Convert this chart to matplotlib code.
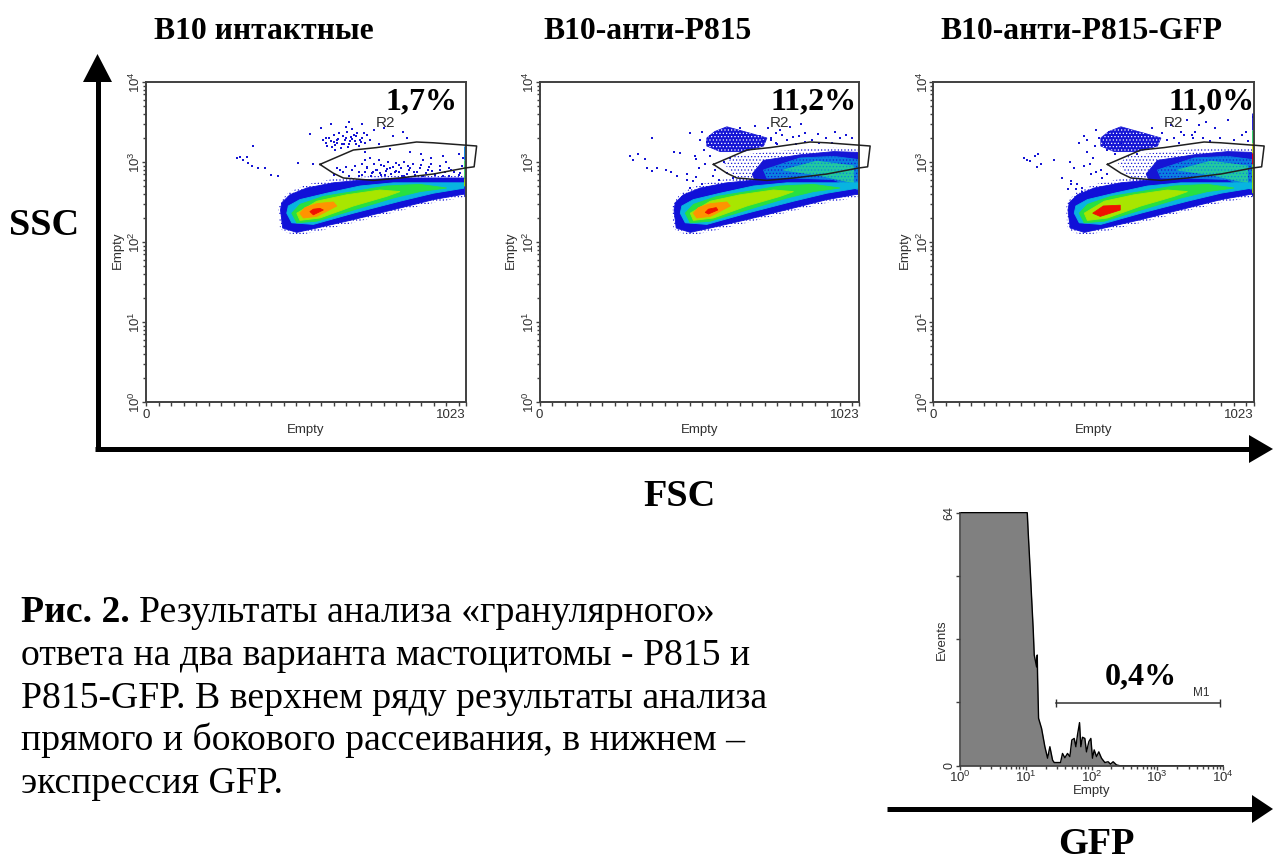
"""
Flow cytometry figure: FSC/SSC dot plots for three groups and a GFP histogram
"""

import numpy as np
import matplotlib
matplotlib.use('Agg')
import matplotlib.pyplot as plt
from matplotlib.patches import Polygon
from matplotlib.transforms import ScaledTranslation

W, H = 1273, 856
SERIF = 'Liberation Serif'
SANS = 'Liberation Sans'
AXC = '#404040'
DOT = '#1515d5'
plt.rcParams['hatch.linewidth'] = 0.5

titles = ['B10 интактные', 'B10-анти-P815', 'B10-анти-P815-GFP']
title_x = [264, 648, 1081]
percents = ['1,7%', '11,2%', '11,0%']
percent_x = [422, 814, 1212]
panel_left = [146, 539.5, 933.5]

# density layers of the main population: channel, log10(SSC)
ring_x = [424, 428, 440, 482, 546, 663, 812, 919, 1020, 1020, 919, 812, 705, 599, 514, 455, 428]
ring_y = [2.42, 2.18, 2.13, 2.08, 2.13, 2.24, 2.39, 2.49, 2.56, 2.84, 2.84, 2.84, 2.82, 2.79, 2.72, 2.62, 2.50]
blue_x = [430, 437, 482, 546, 663, 812, 919, 1020, 1020, 919, 812, 705, 599, 514, 460, 434]
blue_y = [2.40, 2.175, 2.12, 2.175, 2.28, 2.425, 2.53, 2.60, 2.80, 2.80, 2.80, 2.78, 2.74, 2.675, 2.59, 2.49]
cyan_x = [450, 466, 535, 663, 812, 919, 1020, 1020, 919, 791, 684, 578, 492, 455]
cyan_y = [2.36, 2.24, 2.22, 2.36, 2.51, 2.61, 2.675, 2.74, 2.74, 2.74, 2.70, 2.61, 2.53, 2.45]
green_x = [466, 482, 546, 663, 791, 876, 961, 876, 769, 663, 567, 492]
green_y = [2.36, 2.24, 2.26, 2.40, 2.55, 2.63, 2.675, 2.72, 2.70, 2.63, 2.57, 2.47]
lime_x = [482, 492, 556, 663, 769, 812, 748, 641, 546]
lime_y = [2.36, 2.27, 2.30, 2.45, 2.57, 2.63, 2.65, 2.59, 2.51]
orange_x = [492, 503, 546, 610, 599, 546, 508]
orange_y = [2.36, 2.30, 2.32, 2.45, 2.50, 2.48, 2.43]
red_x = [[524, 535, 567, 556, 535], [530, 540, 570, 565, 540], [509, 533, 597, 597, 543]]
red_y = [[2.38, 2.34, 2.40, 2.42, 2.41], [2.37, 2.35, 2.40, 2.43, 2.41], [2.36, 2.32, 2.40, 2.46, 2.45]]

# region R2
gate_x = [556, 663, 737, 865, 919, 1023, 1057, 1049, 1020, 919, 812, 727, 631, 599]
gate_y = [2.97, 3.15, 3.18, 3.25, 3.24, 3.21, 3.20, 2.94, 2.925, 2.85, 2.80, 2.77, 2.80, 2.86]

# granular population, panels 2 and 3
blob_x = [535, 560, 599, 673, 727, 716, 652, 578, 535]
blob_y = [3.30, 3.38, 3.44, 3.36, 3.30, 3.20, 3.13, 3.13, 3.20]
band_edge_x = [590, 625, 716, 833, 940, 1023, 1023, 780, 640]
band_edge_y = [2.98, 3.08, 3.12, 3.16, 3.18, 3.17, 2.70, 2.74, 2.74]
band_blue_x = [680, 716, 833, 940, 1023, 1023, 940, 780, 690]
band_blue_y = [2.85, 3.02, 3.09, 3.13, 3.12, 2.59, 2.70, 2.76, 2.76]
band_cyan_x = [716, 833, 940, 1020, 1020, 940, 812, 727]
band_cyan_y = [2.90, 3.05, 3.07, 3.03, 2.65, 2.78, 2.80, 2.80]
band_green_x = [780, 886, 1004, 1004, 886]
band_green_y = [2.90, 3.01, 2.95, 2.74, 2.84]

# single events: channel, log10(SSC)
p1_x = [290, 300, 309, 322, 327, 338, 359, 380, 343, 399, 423, 487, 535, 525, 560, 575, 590, 605, 650, 690,
        730, 760, 790, 820, 835, 565, 600, 640, 700, 745, 780, 950, 1000, 1015, 845, 880, 910, 960,
        575, 585, 595, 600, 610, 615, 622, 630, 636, 642, 650, 655, 660, 668, 675, 680, 690, 700, 708, 716,
        580, 592, 604, 618, 628, 640, 652, 664, 672, 684, 696, 610, 634, 646, 658, 670, 686,
        610, 630, 650, 668, 680, 690, 700, 708, 716, 722, 730, 738, 745, 752, 760, 768, 775, 782, 790, 800,
        808, 815, 825, 835, 845, 855, 865, 875, 885, 895, 905, 915, 925, 940, 955, 970, 985, 1000, 1010,
        690, 705, 720, 735, 750, 765, 780, 795, 810, 825, 840, 860, 880, 900, 925, 950, 975,
        700, 725, 748, 772, 800, 818, 838, 858, 885, 912, 940, 968, 1005, 660, 680, 620, 640, 600]
p1_y = [3.05, 3.06, 3.02, 3.06, 2.99, 2.95, 2.93, 2.93, 3.20, 2.84, 2.82, 2.99, 2.97, 3.35, 3.42, 3.30, 3.47, 3.15,
        3.50, 3.47, 3.40, 3.43, 3.33, 3.38, 3.30, 3.27, 3.25, 3.44, 3.13, 3.22, 3.16, 3.07, 3.10, 3.05, 3.12,
        3.10, 3.05, 3.00,
        3.24, 3.30, 3.19, 3.34, 3.24, 3.29, 3.18, 3.33, 3.27, 3.37, 3.22, 3.31, 3.41, 3.26, 3.36, 3.20, 3.30, 3.24,
        3.34, 3.28,
        3.20, 3.26, 3.21, 3.36, 3.22, 3.30, 3.26, 3.34, 3.22, 3.27, 3.36, 3.28, 3.23, 3.19, 3.29, 3.32, 3.25,
        2.93, 2.87, 2.83, 2.95, 2.87, 2.98, 2.88, 2.94, 3.05, 2.86, 2.97, 2.90, 3.03, 2.84, 2.95, 2.89, 3.00, 2.85,
        2.94, 2.99, 2.87, 2.92, 3.00, 2.85, 2.93, 2.98, 2.87, 2.92, 3.03, 2.86, 2.94, 2.89, 2.85, 2.95, 2.87, 2.92,
        2.88, 2.84, 2.95,
        2.84, 2.92, 2.82, 2.90, 2.96, 2.84, 2.93, 2.87, 2.96, 2.83, 2.90, 2.84, 2.96, 2.90, 2.84, 2.82, 2.90,
        3.02, 2.88, 2.86, 2.91, 2.89, 2.83, 2.95, 2.88, 2.83, 2.97, 2.90, 2.82, 2.86, 2.90, 2.82, 2.90, 2.94, 2.84]
p2_x = [290, 300, 315, 338, 345, 360, 375, 405, 360, 430, 450, 420, 440, 470, 490, 480, 520, 530, 500, 510,
        545, 560, 590, 480, 520, 770, 800, 830, 835, 890, 945, 960, 850, 730, 755, 690, 640, 610, 560, 535,
        470, 500, 525, 512, 545, 498, 555, 575, 600, 620, 740, 760, 775, 790, 810, 820, 848, 870, 895, 915,
        935, 980, 1000, 705, 715, 740, 755]
p2_y = [3.08, 3.02, 3.10, 3.04, 2.93, 2.89, 2.92, 2.90, 3.30, 3.13, 3.11, 2.87, 2.83, 2.85, 2.76, 2.68, 2.72, 2.97,
        3.04, 2.93, 3.07, 2.90, 3.00, 3.36, 3.38, 3.40, 3.44, 3.32, 3.48, 3.35, 3.38, 3.30, 3.25, 3.42, 3.36, 3.45,
        3.42, 3.05, 3.20, 3.25,
        2.78, 2.81, 3.15, 3.28, 3.33, 3.08, 2.83, 2.78, 2.86, 2.80, 3.28, 3.22, 3.34, 3.27, 3.31, 3.22, 3.36, 3.28,
        3.24, 3.30, 3.24, 3.34, 3.30, 3.32, 3.26, 3.30, 3.24]
p3_x = [290, 298, 310, 325, 335, 345, 330, 385, 435, 410, 440, 460, 475, 450, 480, 510, 505, 535, 490, 555,
        480, 520, 570, 600, 760, 810, 825, 850, 870, 900, 940, 1000, 1020, 790, 830, 700, 650,
        465, 490, 515, 530, 545, 560, 580, 600, 500, 520, 540, 555, 730, 745, 770, 785, 800, 835, 860, 885,
        915, 960, 985, 1005, 475, 455, 440, 430]
p3_y = [3.05, 3.02, 3.01, 3.07, 3.10, 2.98, 2.94, 3.03, 3.00, 2.80, 2.76, 2.72, 2.68, 2.92, 2.95, 3.05, 2.85, 2.90,
        3.12, 3.15, 3.33, 3.40, 3.30, 3.24, 3.46, 3.52, 3.34, 3.46, 3.50, 3.42, 3.52, 3.38, 3.56, 3.38, 3.30, 3.43,
        3.10,
        3.24, 3.28, 3.20, 3.30, 3.24, 3.38, 3.10, 3.18, 2.98, 2.88, 2.80, 2.85, 3.36, 3.28, 3.30, 3.24, 3.34, 3.38,
        3.30, 3.26, 3.30, 3.28, 3.34, 3.26, 2.62, 2.66, 2.72, 2.66]
points_x = [p1_x, p2_x, p3_x]
points_y = [p1_y, p2_y, p3_y]

# colour strips at the last channel
strip_levels = [[3.20, 3.03, 2.80, 2.70, 2.57],
                [3.78, 3.61, 3.32, 2.82, 2.74, 2.61, 2.57],
                [3.61, 3.40, 3.24, 3.11, 2.97, 2.61, 2.57]]
strip_colors = [['#0080e0', '#30d060', '#a0e000', '#2020e0'],
                ['#1010d0', '#10d070', '#ff8c00', '#d01000', '#c0e000', '#1010d0'],
                ['#1010d0', '#20d060', '#d0e000', '#f00000', '#a0e000', '#1010d0']]

# GFP histogram: log10(fluorescence), events
hist_x = [0, 1.023, 1.038, 1.073, 1.114, 1.129, 1.165, 1.175, 1.180, 1.195, 1.241, 1.291, 1.332, 1.367, 1.408,
          1.433, 1.529, 1.559, 1.595, 1.635, 1.671, 1.701, 1.737, 1.762, 1.787, 1.818, 1.838, 1.863, 1.899, 1.924,
          1.960, 1.990, 2.015, 2.041, 2.076, 2.111, 2.152, 2.203, 2.253, 2.289, 2.329, 2.380, 2.43, 4]
hist_y = [64, 64, 58.8, 47.8, 34.3, 28, 25, 28, 22.5, 12, 9.4, 4.8, 1.9, 4.8, 1.4,
          0.8, 0.8, 3.1, 2, 3.1, 2.3, 6.5, 6.9, 4.8, 7.8, 10.9, 4.8, 7.2, 6.9, 3.5,
          6.1, 6.9, 1.9, 4, 2.3, 3.5, 1.9, 0.8, 1, 0.4, 1, 0.2, 0, 0]

caption = ['Результаты анализа «гранулярного»',
           'ответа на два варианта мастоцитомы - P815 и',
           'P815-GFP. В верхнем ряду результаты анализа',
           'прямого и бокового рассеивания, в нижнем –',
           'экспрессия GFP.']
caption_y = [622, 665, 708, 750, 793]


def px_axes(left, top, width, height):
    return fig.add_axes([left / W, 1 - (top + height) / H, width / W, height / H])


def layer(ax, xs, ys, color, hatch=None, hatch_color=None):
    ax.add_patch(Polygon(np.column_stack([xs, ys]), closed=True, facecolor=color, edgecolor=color, linewidth=0.6))
    if hatch:
        ax.add_patch(Polygon(np.column_stack([xs, ys]), closed=True, fill=False, hatch=hatch,
                             edgecolor=hatch_color, linewidth=0))


def speckle(ax, xs, ys, hatch='.....'):
    ax.add_patch(Polygon(np.column_stack([xs, ys]), closed=True, fill=False, hatch=hatch,
                         edgecolor=DOT, linewidth=0))


fig = plt.figure(figsize=(W / 100, H / 100), dpi=100, facecolor='white')

# page layer in pixels, for the arrows and the printed text
page = fig.add_axes([0, 0, 1, 1], zorder=5)
page.set_xlim(0, W)
page.set_ylim(H, 0)
page.axis('off')
page.patch.set_alpha(0)

for i in range(3):
    ax = px_axes(panel_left[i], 82, 320, 320)
    ax.set_xlim(0, 1023)
    ax.set_ylim(0, 4)

    speckle(ax, ring_x, ring_y)
    if i > 0:
        speckle(ax, band_edge_x, band_edge_y)
        layer(ax, blob_x, blob_y, DOT, '.....', 'white')
        layer(ax, band_blue_x, band_blue_y, DOT)
    layer(ax, blue_x, blue_y, '#1010d8')
    if i > 0:
        layer(ax, band_cyan_x, band_cyan_y, '#0a80e0', '.....', DOT)
        layer(ax, band_green_x, band_green_y, '#22c8a0', '.....', '#0a80e0')
    layer(ax, cyan_x, cyan_y, '#08b4e0')
    layer(ax, green_x, green_y, '#28e040')
    layer(ax, lime_x, lime_y, '#a8e600')
    if i < 2:
        layer(ax, orange_x, orange_y, '#ff9400')
    layer(ax, red_x[i], red_y[i], '#f01000')

    ax.scatter(points_x[i], points_y[i], s=2.8, color=DOT, marker='s', linewidths=0)
    ax.vlines([1020] * len(strip_colors[i]), strip_levels[i][1:], strip_levels[i][:-1],
              colors=strip_colors[i], linewidth=2)

    ax.plot(gate_x + gate_x[:1], gate_y + gate_y[:1], color='#202020', linewidth=1.1, clip_on=False, zorder=4)
    ax.text(766, 3.49, 'R2', family=SANS, fontsize=11, color='#303030', ha='center', va='center')

    ax.set_xticks([0, 1023])
    ax.set_xticklabels(['0', '1023'], family=SANS, fontsize=9.5, color='#303030')
    ax.set_xticks(np.arange(40, 1023, 37.5 * 1.0656), minor=True)
    ax.tick_params(axis='x', which='both', length=3, width=1, color=AXC, pad=2)
    ax.get_xticklabels()[1].set_ha('right')

    ax.set_yticks([0, 1, 2, 3, 4])
    ax.set_yticklabels([r'$\mathregular{10^{%d}}$' % d for d in range(5)], family=SANS, fontsize=9.5,
                       rotation=90, va='center', color='#303030')
    shift = ScaledTranslation(0, 5 / 72, fig.dpi_scale_trans)
    for lab in ax.get_yticklabels():
        lab.set_transform(lab.get_transform() + shift)
    ax.set_yticks([d + np.log10(m) for d in range(4) for m in range(2, 10)], minor=True)
    ax.tick_params(axis='y', which='major', length=3, width=1, color=AXC, pad=-1)
    ax.tick_params(axis='y', which='minor', length=2, width=1, color=AXC)
    for s in ax.spines.values():
        s.set_color(AXC)
        s.set_linewidth(1.4)
    ax.set_xlabel('Empty', family=SANS, fontsize=9.5, color='#303030', labelpad=2)
    ax.text(-0.088, 0.475, 'Empty', transform=ax.transAxes, family=SANS, fontsize=9.5, color='#303030',
            rotation=90, ha='center', va='center')

    page.text(title_x[i], 38.5, titles[i], family=SERIF, weight='bold', fontsize=22.8, ha='center', va='baseline')
    page.text(percent_x[i], 109, percents[i], family=SERIF, weight='bold', fontsize=23, ha='center', va='baseline')

# histogram
hx = px_axes(960, 512.7, 263, 253)
hx.set_xlim(0, 4)
hx.set_ylim(0, 64)
hx.fill_between(hist_x, hist_y, 0, color='#808080', linewidth=0)
hx.plot(hist_x, hist_y, color='black', linewidth=1, clip_on=False)
hx.spines['top'].set_visible(False)
hx.spines['right'].set_visible(False)
for s in ('left', 'bottom'):
    hx.spines[s].set_color(AXC)
    hx.spines[s].set_linewidth(1.2)
hx.set_xticks([0, 1, 2, 3, 4])
hx.set_xticklabels([r'$\mathregular{10^{%d}}$' % d for d in range(5)], family=SANS, fontsize=9.5, color='#303030')
hx.set_xticks([d + np.log10(m) for d in range(4) for m in range(2, 10)], minor=True)
hx.tick_params(axis='x', which='major', length=3, width=1, color=AXC, pad=0)
hx.tick_params(axis='x', which='minor', length=2, width=1, color=AXC)
hx.set_yticks([0, 16, 32, 48, 64])
hx.set_yticklabels(['0', '', '', '', '64'], family=SANS, fontsize=9, rotation=90, va='center', color='#303030')
hx.tick_params(axis='y', length=3, width=1, color=AXC, pad=0)
hx.set_xlabel('Empty', family=SANS, fontsize=9.5, color='#303030', labelpad=0)
hx.set_ylabel('Events', family=SANS, fontsize=9.5, color='#303030', labelpad=-3)
hx.plot([1.458, 3.96], [15.9, 15.9], color='#303030', linewidth=1.1, marker='|', markersize=6, markeredgewidth=1)
hx.text(3.67, 18.5, 'M1', family=SANS, fontsize=8.5, color='#303030', ha='center', va='center')
page.text(1141, 677, '0,4%', family=SERIF, weight='bold', fontsize=23, ha='center', va='center')

# arrows
page.plot([97.5, 97.5], [451, 80], color='black', linewidth=3.6, solid_capstyle='butt')
page.add_patch(Polygon([[83, 82], [112, 82], [97.5, 54]], closed=True, facecolor='black', edgecolor='none'))
page.plot([95, 1251], [448.5, 448.5], color='black', linewidth=3.6, solid_capstyle='butt')
page.add_patch(Polygon([[1249, 435], [1249, 463], [1273, 449]], closed=True, facecolor='black', edgecolor='none'))
page.plot([887, 1254], [809, 809], color='black', linewidth=3.6, solid_capstyle='butt')
page.add_patch(Polygon([[1252, 795], [1252, 823], [1273, 809]], closed=True, facecolor='black', edgecolor='none'))

page.text(44, 235, 'SSC', family=SERIF, weight='bold', fontsize=27.5, ha='center', va='baseline')
page.text(679, 506, 'FSC', family=SERIF, weight='bold', fontsize=27.5, ha='center', va='baseline')
page.text(1096, 854.5, 'GFP', family=SERIF, weight='bold', fontsize=27.5, ha='center', va='baseline')

# caption, bold lead-in followed by plain text
head = page.text(21, caption_y[0], 'Рис. 2.', family=SERIF, weight='bold', fontsize=27.2, ha='left', va='baseline')
bbox = head.get_window_extent(fig.canvas.get_renderer())
for k, (line, y) in enumerate(zip(caption, caption_y)):
    page.text(bbox.x1 + 9 if k == 0 else 21, y, line, family=SERIF, fontsize=27.2, ha='left', va='baseline')

fig.savefig('out.png', dpi=100)
